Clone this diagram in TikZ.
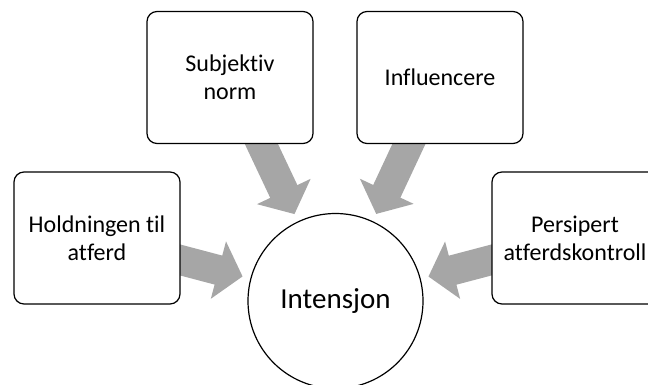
\documentclass[tikz,border=0pt]{standalone}
\usepackage{fontspec}
\setmainfont{Carlito}[Ligatures=NoCommon]
\usetikzlibrary{arrows.meta,backgrounds}
\definecolor{arrowgray}{RGB}{166,166,166}
\begin{document}
\begin{tikzpicture}[x=1pt,y=-1pt,
  factor/.style={draw,line width=1.2pt,rounded corners=10pt,fill=white,
    minimum width=166pt,minimum height=132pt,inner sep=0pt,align=center,
    font=\fontsize{24}{28}\selectfont},
  goal/.style={circle,draw,line width=1.2pt,fill=white,minimum size=175pt,
    inner sep=0pt,font=\fontsize{29}{33}\selectfont},
  push/.style={draw=arrowgray,line width=30pt,
    -{Triangle[width=58pt,length=25pt]},shorten >=8pt}]
  \useasboundingbox (0,0) rectangle (648,385);

  \node[goal] (intensjon) at (335.5,301) {Intensjon};
  \node[factor] (holdning) at (97,238) {Holdningen til\\atferd};
  \node[factor] (norm) at (230,77.5) {Subjektiv\\norm};
  \node[factor] (influencere) at (440,77.5) {Influencere};
  \node[factor] (kontroll) at (575,238) {Persipert\\atferdskontroll};

  \begin{scope}[on background layer]
    \draw[push] (holdning.center) -- (intensjon);
    \draw[push] (norm.center) -- (intensjon);
    \draw[push] (influencere.center) -- (intensjon);
    \draw[push] (kontroll.center) -- (intensjon);
  \end{scope}
\end{tikzpicture}
\end{document}
